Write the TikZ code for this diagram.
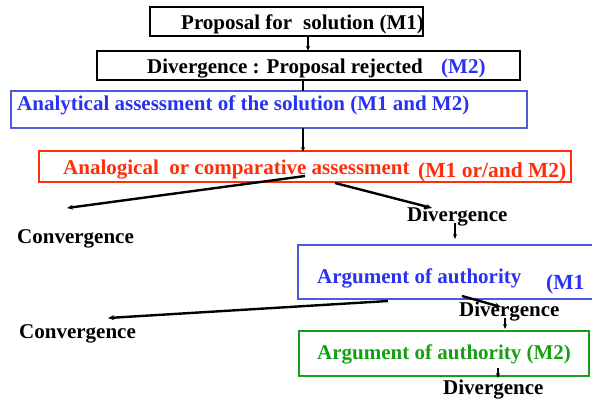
\documentclass[tikz,border=0pt]{standalone}
\usepackage{fontspec}
\setmainfont{Liberation Serif}
\usetikzlibrary{arrows.meta}
\definecolor{myblue}{RGB}{40,50,240}
\definecolor{boxblue}{RGB}{80,90,220}
\definecolor{myred}{RGB}{255,45,10}
\definecolor{mygreen}{RGB}{20,160,20}
\tikzset{
  box/.style={draw, line width=2pt, inner sep=0pt},
  lbl/.style={font=\fontsize{21}{24}\selectfont\bfseries, inner sep=0pt, anchor=west, yshift=-2.5pt},
  big/.style={font=\fontsize{21.5}{24}\selectfont\bfseries, inner sep=0pt, anchor=west, yshift=-2.5pt},
  conn/.style={line width=1.6pt, -{Stealth[length=5pt,width=4pt]}},
  thick/.style={line width=2.4pt, -{Stealth[length=6pt,width=5pt]}},
  plain/.style={line width=1.6pt}
}
\begin{document}
\begin{tikzpicture}[x=1pt,y=-1pt]
\useasboundingbox (0,0) rectangle (592,399);
% boxes
\node[box, minimum width=273pt, minimum height=29pt] (b1) at (286.5,21.5) {};
\node[box, minimum width=423pt, minimum height=29pt] (b2) at (308.5,65.5) {};
\node[box, draw=boxblue, minimum width=516pt, minimum height=37pt] (b3) at (269,109.5) {};
\node[box, draw=myred, minimum width=532pt, minimum height=31pt] (b4) at (305,166.5) {};
\node[box, draw=boxblue, minimum width=320pt, minimum height=54pt] (b5) at (458,272) {};
\node[box, draw=mygreen, minimum width=290pt, minimum height=45pt] (b6) at (444,353.5) {};
% texts
\node[lbl] (t1) at (181,22) {Proposal for\hspace{11pt}solution (M1)};
\node[lbl] (t2) at (147,66) {Divergence : Proposal rejected};
\node[lbl, text=myblue] (t2b) at (441,66) {(M2)};
\node[lbl, text=myblue] (t3) at (17,103) {Analytical assessment of the solution (M1 and M2)};
\node[lbl, text=myred] (t4) at (63,167) {Analogical\ \ or comparative assessment};
\node[big, text=myred] (t4b) at (418,170) {(M1 or/and M2)};
\node[lbl] (c1) at (17,236) {Convergence};
\node[lbl] (d1) at (407,214) {Divergence};
\node[lbl, text=myblue] (t5) at (317,276) {Argument of authority};
\node[big, text=myblue] (t5b) at (546,282) {(M1};
\node[lbl] (d2) at (459,309) {Divergence};
\node[lbl] (c2) at (19,331) {Convergence};
\node[lbl, text=mygreen] (t6) at (317,352) {Argument of authority (M2)};
\node[lbl] (d3) at (443,387) {Divergence};
% connector points
\coordinate (p1) at (308,36);
\coordinate (p2) at (308,51);
\coordinate (a1) at (305,176);
\coordinate (a2) at (67,208);
\coordinate (a3) at (335,183);
\coordinate (a4) at (432,208);
\coordinate (a5) at (455,223);
\coordinate (a6) at (455,239);
\coordinate (a7) at (388,301);
\coordinate (a8) at (108,318);
\coordinate (a9) at (462,296);
\coordinate (a10) at (501,307);
\coordinate (a11) at (505,318);
\coordinate (a12) at (505,329);
\coordinate (a13) at (498,368);
\coordinate (a14) at (498,378);
\coordinate (q1) at (303,80);
\coordinate (q2) at (303,91);
\coordinate (q3) at (303,128);
\coordinate (q4) at (303,152);
% connectors
\draw[conn] (p1) -- (p2);
\draw[plain] (q1) -- (q2);
\draw[conn] (q3) -- (q4);
\draw[thick] (a1) -- (a2);
\draw[thick] (a3) -- (a4);
\draw[conn] (a5) -- (a6);
\draw[thick] (a7) -- (a8);
\draw[thick] (a9) -- (a10);
\draw[conn] (a11) -- (a12);
\draw[conn] (a13) -- (a14);
\end{tikzpicture}
\end{document}
